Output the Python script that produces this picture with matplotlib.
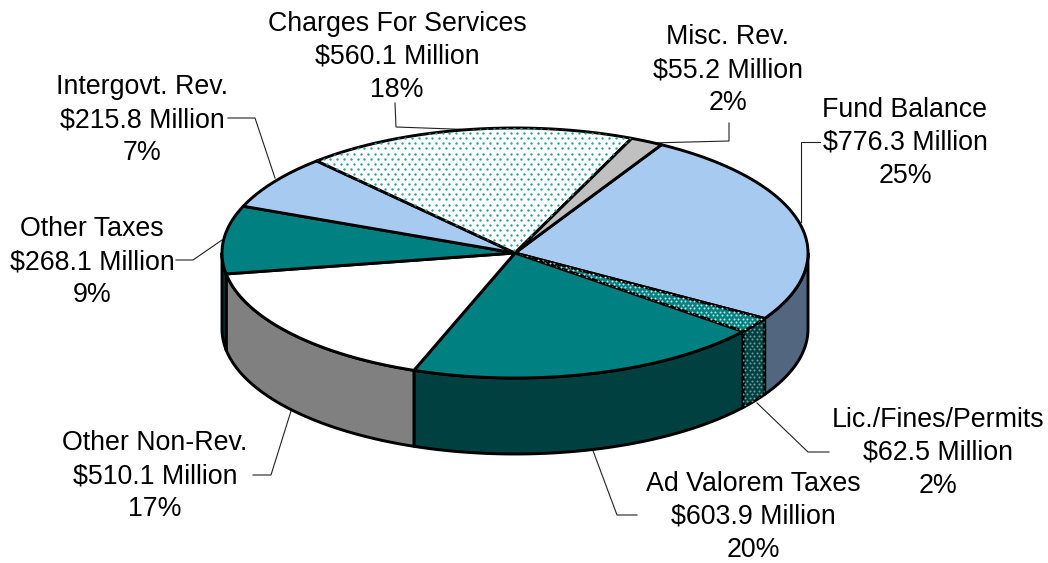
import numpy as np
import matplotlib
matplotlib.use("Agg")
import matplotlib.pyplot as plt
from matplotlib.patches import Polygon

categories = ["Fund Balance", "Lic./Fines/Permits", "Ad Valorem Taxes", "Other Non-Rev.",
              "Other Taxes", "Intergovt. Rev.", "Charges For Services", "Misc. Rev."]
values = [776.3, 62.5, 603.9, 510.1, 268.1, 215.8, 560.1, 55.2]

top_colors = ["#A6CAF0", "#008080", "#008080", "#FFFFFF", "#008080", "#A6CAF0", "#FFFFFF", "#C0C0C0"]
side_colors = ["#53667F", "#004040", "#004040", "#808080", "#004040", "#53667F", "#808080", "#606060"]
dots_top = [None, "#BFE3E3", None, None, None, None, "#2A9D9D", None]
dots_side = [None, "#6F9A9A", None, None, None, None, None, None]
dot_pitch = [None, 4.6, None, None, None, None, 6.8, None]

label_xy = [(905, 143), (938, 453), (753, 517), (155, 476),
            (92, 262), (142, 120), (397, 57), (728, 70)]
leaders = [[(820, 142), (801, 142), (801, 222)],
           [(829, 452), (808, 452), (757, 403)],
           [(637, 515), (617, 515), (592, 448)],
           [(253, 475), (271, 475), (291, 411)],
           [(176, 260), (193, 260), (222, 240)],
           [(228, 118), (255, 118), (275, 178)],
           [(395, 103), (396, 127), (480, 130)],
           [(729, 123), (729, 141), (650, 143)]]

CX, CY, RX, RY, DEPTH = 515, 253, 293, 125, 76
START = 60.0
W, H = 1048, 563

plt.rcParams["font.family"] = ["Liberation Sans", "DejaVu Sans"]
fig = plt.figure(figsize=(W / 100, H / 100), dpi=100)
ax = fig.add_axes([0, 0, 1, 1])
ax.set_xlim(0, W)
ax.set_ylim(H, 0)
ax.axis("off")


def arc(a0, a1, dy=0.0):
    n = max(2, int(abs(a1 - a0) * 2))
    t = np.radians(np.linspace(a0, a1, n))
    return np.column_stack([CX + RX * np.cos(t), CY + dy - RY * np.sin(t)])


def add_dots(patch, color, pitch, bounds):
    x0, x1, y0, y1 = bounds
    ys = np.arange(y0, y1, pitch * 0.75)
    xs, yy = [], []
    for i, y in enumerate(ys):
        off = pitch / 2 if i % 2 else 0
        row = np.arange(x0 + off, x1, pitch)
        xs.append(row)
        yy.append(np.full(row.shape, y))
    sc = ax.scatter(np.concatenate(xs), np.concatenate(yy), s=3.0 if pitch > 5 else 2.2,
                    c=color, linewidths=0, zorder=patch.get_zorder() + 0.1)
    sc.set_clip_path(patch)


pct = np.array(values) / sum(values)
edges = START - np.concatenate([[0], np.cumsum(pct) * 360])
LW = 2.1

# side walls, only the front half of the ellipse is visible
for i in range(len(values)):
    a0, a1 = edges[i], edges[i + 1]
    b0, b1 = min(a0, 0), max(a1, -180)
    if b0 <= b1:
        continue
    pts = np.vstack([arc(b0, b1), arc(b1, b0, DEPTH)])
    p = Polygon(pts, closed=True, facecolor=side_colors[i], edgecolor="black",
                linewidth=LW, joinstyle="round", zorder=2)
    ax.add_patch(p)
    if dots_side[i]:
        add_dots(p, dots_side[i], dot_pitch[i], (pts[:, 0].min(), pts[:, 0].max(), pts[:, 1].min(), pts[:, 1].max()))

# top slices
for i in range(len(values)):
    a0, a1 = edges[i], edges[i + 1]
    pts = np.vstack([[(CX, CY)], arc(a0, a1)])
    p = Polygon(pts, closed=True, facecolor=top_colors[i], edgecolor="black",
                linewidth=LW, joinstyle="round", zorder=3)
    ax.add_patch(p)
    if dots_top[i]:
        add_dots(p, dots_top[i], dot_pitch[i], (pts[:, 0].min(), pts[:, 0].max(), pts[:, 1].min(), pts[:, 1].max()))

# leader lines and labels
for path in leaders:
    xy = np.array(path)
    ax.plot(xy[:, 0], xy[:, 1], color="#222222", lw=0.8, zorder=1, solid_joinstyle="miter")

for cat, v, p, (x, y) in zip(categories, values, pct, label_xy):
    ax.text(x, y, f"{cat}\n\\${v:.1f} Million\n{round(p * 100)}%", ha="center", va="center",
            multialignment="center", fontsize=19.3, color="black", linespacing=1.357, zorder=5)

fig.savefig("out.png", dpi=100, facecolor="white")
